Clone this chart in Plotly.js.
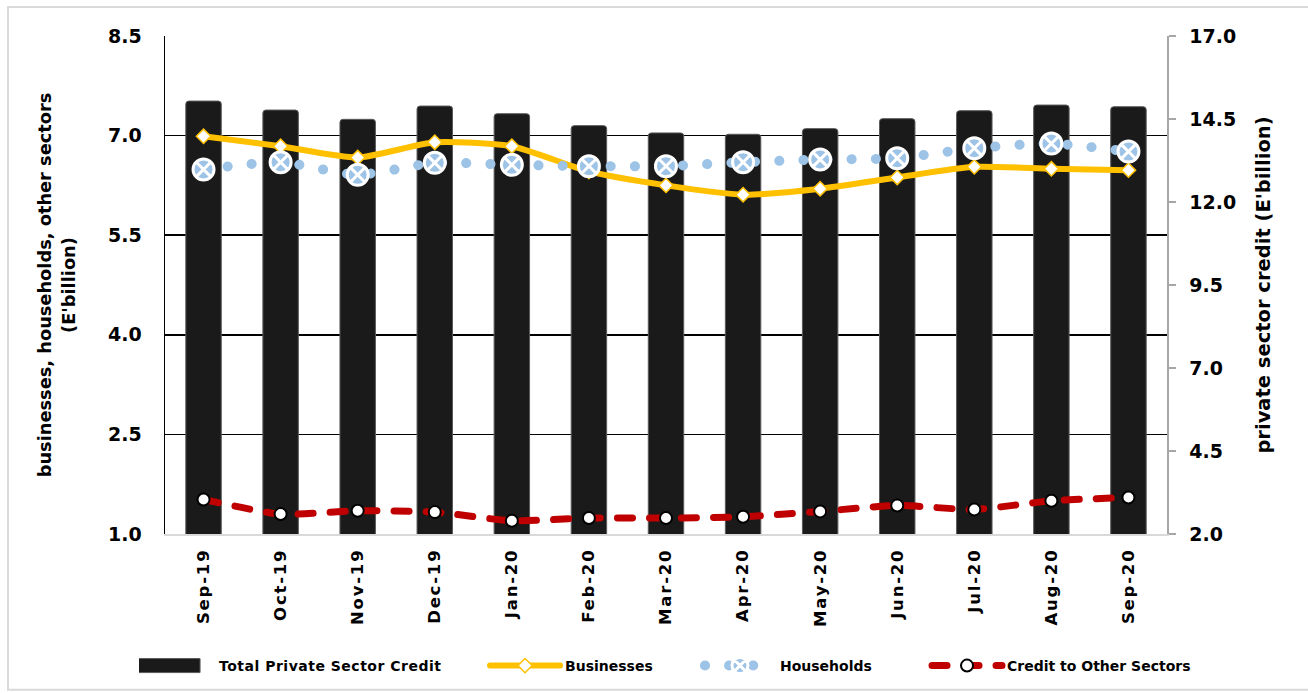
<!DOCTYPE html>
<html>
<head>
<meta charset="utf-8">
<script src="https://cdn.plot.ly/plotly-3.0.1.min.js"></script>
<style>
  html, body { margin: 0; padding: 0; background: #ffffff; }
  #chart { width: 1308px; height: 693px; }
  .js-line { stroke-linecap: round; }
  .xtick text { letter-spacing: 1.8px; }
  .legendtext { letter-spacing: 0.5px; }
</style>
</head>
<body>
<div id="chart"></div>
<script>
// Monthly credit figures, E'billion
const months = ['Sep-19', 'Oct-19', 'Nov-19', 'Dec-19', 'Jan-20', 'Feb-20', 'Mar-20',
                'Apr-20', 'May-20', 'Jun-20', 'Jul-20', 'Aug-20', 'Sep-20'];
const totalCredit  = [15.04, 14.77, 14.49, 14.89, 14.66, 14.30, 14.08, 14.04, 14.21, 14.51, 14.75, 14.92, 14.87];
const businesses   = [6.99, 6.84, 6.67, 6.90, 6.84, 6.46, 6.25, 6.11, 6.20, 6.37, 6.53, 6.50, 6.48];
const households   = [6.49, 6.60, 6.41, 6.59, 6.56, 6.54, 6.54, 6.60, 6.64, 6.66, 6.81, 6.88, 6.76];
const otherSectors = [1.52, 1.30, 1.35, 1.33, 1.20, 1.24, 1.24, 1.26, 1.34, 1.43, 1.37, 1.50, 1.55];

const FONT = 'DejaVu Sans, Verdana, sans-serif';
const LEGEND_FONT = { family: FONT, size: 14, weight: 'bold', color: '#000000' };

const traces = [
  {
    type: 'bar', name: 'Total Private Sector Credit', legend: 'legend',
    x: months, y: totalCredit, yaxis: 'y',
    width: 0.46,
    marker: { color: '#1a1a1a', line: { color: '#5a5a5a', width: 1 } }
  },
  {
    type: 'scatter', mode: 'lines+markers', name: 'Businesses', legend: 'legend2',
    x: months, y: businesses, yaxis: 'y2',
    line: { color: '#ffc000', width: 6, shape: 'spline', smoothing: 0.6 },
    marker: { symbol: 'diamond', size: 11, color: '#ffffff', line: { color: '#ffc000', width: 1.5 } }
  },
  {
    type: 'scatter', mode: 'lines+markers', name: 'Households', legend: 'legend3',
    x: months, y: households, yaxis: 'y2',
    line: { color: '#9dc3e6', width: 10, dash: '0.1px,24px', shape: 'spline', smoothing: 0.6 },
    marker: { symbol: 'circle-x', size: 21, color: '#9dc3e6', line: { color: '#ffffff', width: 3 } }
  },
  {
    type: 'scatter', mode: 'lines+markers', name: 'Credit to Other Sectors', legend: 'legend4',
    x: months, y: otherSectors, yaxis: 'y2',
    line: { color: '#c00000', width: 7, dash: '15px,17px', shape: 'spline', smoothing: 0.6 },
    marker: { symbol: 'circle', size: 12, color: '#ffffff', line: { color: '#000000', width: 2 } }
  }
];

function legendAt(x) {
  return {
    orientation: 'h', x: x, xanchor: 'left',
    y: -0.2625, yanchor: 'middle',
    itemwidth: 70, font: LEGEND_FONT,
    bgcolor: 'rgba(0,0,0,0)', borderwidth: 0
  };
}

const layout = {
  width: 1308, height: 693,
  margin: { l: 165, r: 141, t: 36, b: 158 },
  paper_bgcolor: '#ffffff', plot_bgcolor: '#ffffff',
  font: { family: FONT, color: '#000000' },
  showlegend: true,
  barcornerradius: 3,
  xaxis: {
    type: 'category',
    range: [-0.5, months.length - 0.5],
    tickangle: -90,
    tickfont: { family: FONT, size: 16.5, weight: 'bold', color: '#000000' },
    showline: true, linecolor: '#d9d9d9', linewidth: 2,
    ticks: '', showgrid: false, zeroline: false,
    ticklabelstandoff: 6
  },
  yaxis: {
    side: 'right',
    range: [2, 17], tick0: 2, dtick: 2.5, tickformat: '.1f',
    showgrid: false, zeroline: false,
    showline: true, linecolor: '#a6a6a6', linewidth: 1.5,
    ticks: 'outside', ticklen: 7, tickcolor: '#a6a6a6', tickwidth: 1.5,
    ticklabelstandoff: 10,
    tickfont: { family: FONT, size: 19, weight: 'bold', color: '#000000' },
    title: { text: "private sector credit (E'billion)", standoff: 21,
             font: { family: FONT, size: 19.5, weight: 'bold', color: '#000000' } }
  },
  yaxis2: {
    side: 'left', overlaying: 'y',
    range: [1, 8.5], tick0: 1, dtick: 1.5, tickformat: '.1f',
    showgrid: true, gridcolor: '#000000', gridwidth: 1.5,
    zeroline: false,
    showline: true, linecolor: '#000000', linewidth: 1.5,
    ticks: '',
    ticklabelstandoff: 18,
    tickfont: { family: FONT, size: 19, weight: 'bold', color: '#000000' },
    title: { text: "businesses, households, other sectors<br>(E'billion)", standoff: 28,
             font: { family: FONT, size: 17.8, weight: 'bold', color: '#000000' } }
  },
  legend:  legendAt(-0.0259),
  legend2: legendAt(0.3194),
  legend3: legendAt(0.5339),
  legend4: legendAt(0.7605),
  shapes: [
    { type: 'rect', xref: 'paper', yref: 'paper',
      x0: -0.1567, x1: 1.15, y0: 1.058, y1: -0.3126,
      line: { color: '#d9d9d9', width: 2 }, layer: 'below' }
  ]
};

// Widen the bar swatch in the first legend to a long rectangle
function widenBarSwatch(gd) {
  const g = gd.querySelector('g.legend');
  if (!g) return;
  const p = g.querySelector('.legendpoints path');
  if (p) p.setAttribute('d', 'M21,7H-49V-7H21Z');
}

Plotly.newPlot('chart', traces, layout, { displayModeBar: false, staticPlot: true }).then(function (gd) {
  widenBarSwatch(gd);
  gd.on('plotly_afterplot', function () { widenBarSwatch(gd); });
  setTimeout(function () { widenBarSwatch(gd); }, 50);
});
</script>
</body>
</html>
